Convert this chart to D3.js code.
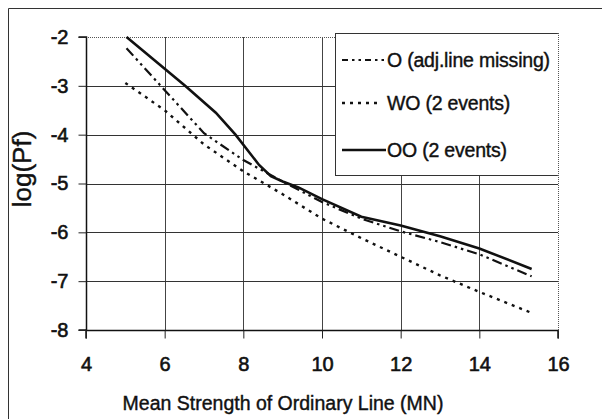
<!DOCTYPE html>
<html>
<head>
<meta charset="utf-8">
<script src="https://cdn.jsdelivr.net/npm/d3@7"></script>
<style>
  body { margin: 0; background: #fff; }
  text { font-family: "Liberation Sans", Arial, sans-serif; fill: #111; stroke: #111; stroke-width: 0.4px; }
</style>
</head>
<body>
<script>
const SVG_WIDTH = 602;
const SVG_HEIGHT = 419;

// data
const seriesNames = ['O (adj.line missing)', 'WO (2 events)', 'OO (2 events)'];
const oX  = [5.03, 5.9, 7.0, 8.0, 9.0, 10, 11, 12, 13, 14, 15.33];
const oY  = [-2.23, -3.0, -3.97, -4.52, -4.96, -5.38, -5.72, -5.98, -6.2, -6.45, -6.9];
const woX = [5.0, 6, 7, 8, 9, 10, 11, 12, 13, 14, 15.33];
const woY = [-2.94, -3.5, -4.2, -4.75, -5.22, -5.72, -6.12, -6.5, -6.88, -7.22, -7.65];
const ooX = [5.03, 6.52, 7.3, 7.8, 8.4, 8.7, 9.0, 9.4, 10, 11, 12, 13, 14, 15.33];
const ooY = [-2.0, -3.0, -3.55, -4.0, -4.62, -4.85, -4.96, -5.08, -5.32, -5.68, -5.86, -6.08, -6.33, -6.75];
const xTicks = [4, 6, 8, 10, 12, 14, 16];
const yTicks = [-2, -3, -4, -5, -6, -7, -8];

const margin = { left: 86, right: 44, top: 37, bottom: 89 };

const svg = d3.select('body').append('svg')
    .attr('width', SVG_WIDTH)
    .attr('height', SVG_HEIGHT);

// outer frame (only top and left edges visible)
svg.append('path')
  .attr('d', 'M8.5,419 L8.5,8.5 L602,8.5')
  .attr('fill', 'none')
  .attr('stroke', '#333')
  .attr('stroke-width', 1);

const x = d3.scaleLinear().domain([4, 16]).range([margin.left, SVG_WIDTH - margin.right]);
const y = d3.scaleLinear().domain([-8, -2]).range([SVG_HEIGHT - margin.bottom, margin.top]);

const g = svg.append('g');

// grid
g.selectAll('.vgrid').data(xTicks.slice(1, -1)).enter().append('line')
  .attr('x1', d => Math.round(x(d)) + 0.5).attr('x2', d => Math.round(x(d)) + 0.5)
  .attr('y1', y(-2)).attr('y2', y(-8))
  .attr('stroke', '#444').attr('stroke-width', 1);
g.selectAll('.hgrid').data(yTicks.slice(1, -1)).enter().append('line')
  .attr('y1', d => Math.round(y(d)) + 0.5).attr('y2', d => Math.round(y(d)) + 0.5)
  .attr('x1', x(4)).attr('x2', x(16))
  .attr('stroke', '#333').attr('stroke-width', 1);

// dotted top / right border of the plot area
g.append('path')
  .attr('d', `M${x(4)},${Math.round(y(-2)) + 0.5} L${Math.round(x(16)) + 0.5},${Math.round(y(-2)) + 0.5} L${Math.round(x(16)) + 0.5},${y(-8)}`)
  .attr('fill', 'none')
  .attr('stroke', '#555')
  .attr('stroke-dasharray', '1,1');

// axes
const xAxis = d3.axisBottom(x).tickValues(xTicks).tickSize(8).tickFormat(d3.format('d'));
const yAxis = d3.axisLeft(y).tickValues(yTicks).tickSize(8).tickFormat(d => d3.format('d')(d).replace('−', '-'));

const gx = svg.append('g').attr('transform', `translate(0,${Math.round(y(-8)) + 0.5})`).call(xAxis);
const gy = svg.append('g').attr('transform', `translate(${Math.round(x(4)) + 0.5},0)`).call(yAxis);

[gx, gy].forEach(a => {
  a.select('.domain').attr('stroke', '#111').attr('stroke-width', 1.5);
  a.selectAll('.tick line').attr('stroke', '#222');
  a.selectAll('.tick text')
    .style('font-family', '"Liberation Sans", Arial, sans-serif')
    .style('font-size', '20px')
    .style('stroke', '#111')
    .style('stroke-width', '0.6px')
    .attr('fill', '#111');
});
gx.select('.domain').attr('d', `M${x(4)},8V0H${x(16)}V8`);
gy.select('.domain').attr('d', `M-8,${y(-2)}H0V${y(-8)}H-8`);
gx.selectAll('.tick text').attr('dy', '0.71em').attr('y', 26);
gy.selectAll('.tick text').attr('x', -18);

// axis titles
svg.append('text')
  .attr('x', 283)
  .attr('y', 410)
  .attr('text-anchor', 'middle')
  .style('font-size', '19.5px')
  .text('Mean Strength of Ordinary Line (MN)');

svg.append('text')
  .attr('transform', `translate(31,${169}) rotate(-90)`)
  .attr('text-anchor', 'middle')
  .style('font-size', '26px')
  .text('log(Pf)');

// series
const line = d3.line().x(d => x(d[0])).y(d => y(d[1]));
const styles = [
  { dash: '10,4,2.5,4,2.5,4', width: 2.2 },
  { dash: '3,5', width: 2.4 },
  { dash: null, width: 2.6 }
];
const series = [
  d3.zip(oX, oY),
  d3.zip(woX, woY),
  d3.zip(ooX, ooY)
];

series.forEach((s, i) => {
  g.append('path')
    .datum(s)
    .attr('d', line)
    .attr('fill', 'none')
    .attr('stroke', '#111')
    .attr('stroke-width', styles[i].width)
    .attr('stroke-dasharray', styles[i].dash);
});

// legend
const lg = svg.append('g');
const lgX = 335, lgY = 33, lgW = Math.round(x(16)) + 0.5 - 335, lgH = 142;
lg.append('rect')
  .attr('x', lgX + 0.5).attr('y', lgY + 0.5)
  .attr('width', lgW - 0.5).attr('height', lgH)
  .attr('fill', '#fff')
  .attr('stroke', '#333');
lg.append('line')
  .attr('x1', lgX + lgW).attr('x2', lgX + lgW)
  .attr('y1', lgY).attr('y2', lgY + lgH + 1)
  .attr('stroke', '#fff').attr('stroke-width', 1.2);
lg.append('line')
  .attr('x1', lgX + lgW).attr('x2', lgX + lgW)
  .attr('y1', lgY).attr('y2', lgY + lgH + 1)
  .attr('stroke', '#555').attr('stroke-dasharray', '1,1');

const rowY = [60, 103, 150];
const sampleEnd = [386, 382, 386];
seriesNames.forEach((name, i) => {
  lg.append('line')
    .attr('x1', 342).attr('x2', sampleEnd[i])
    .attr('y1', rowY[i]).attr('y2', rowY[i])
    .attr('stroke', '#111')
    .attr('stroke-width', styles[i].width)
    .attr('stroke-dasharray', i === 0 ? '6,4,2.5,4,2.5,4' : styles[i].dash);
  lg.append('text')
    .attr('x', 387)
    .attr('y', rowY[i])
    .attr('dy', '0.35em')
    .style('font-size', '19.5px')
    .style('letter-spacing', '-0.2px')
    .text(name);
});
</script>
</body>
</html>
